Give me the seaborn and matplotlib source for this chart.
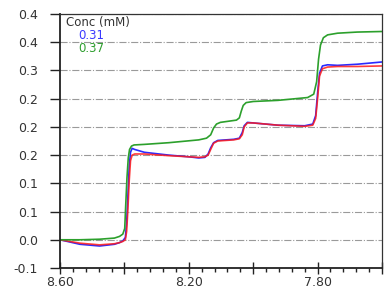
import numpy as np
import pandas as pd
import matplotlib
matplotlib.use("Agg")
import matplotlib.pyplot as plt
from matplotlib.ticker import MultipleLocator, FixedLocator, FixedFormatter
from matplotlib.lines import Line2D
import seaborn as sns

# ---------------- data ----------------
ppm_green = [8.600, 8.538, 8.477, 8.431, 8.415, 8.405, 8.399, 8.396, 8.392, 8.388,
             8.384, 8.378, 8.370, 8.338, 8.262, 8.169, 8.145, 8.132, 8.123, 8.114,
             8.102, 8.052, 8.043, 8.037, 8.031, 8.022, 8.000, 7.923, 7.831, 7.812,
             7.803, 7.797, 7.791, 7.782, 7.769, 7.738, 7.677, 7.600]
val_green = [0.000, 0.000, 0.001, 0.003, 0.006, 0.010, 0.020, 0.060, 0.110, 0.145,
             0.160, 0.166, 0.168, 0.169, 0.172, 0.177, 0.180, 0.186, 0.198, 0.205,
             0.208, 0.212, 0.216, 0.228, 0.238, 0.243, 0.245, 0.247, 0.252, 0.258,
             0.280, 0.320, 0.345, 0.358, 0.363, 0.366, 0.368, 0.369]

ppm_blue = [8.600, 8.538, 8.477, 8.431, 8.415, 8.405, 8.397, 8.393, 8.389, 8.385,
            8.381, 8.376, 8.368, 8.338, 8.262, 8.200, 8.169, 8.150, 8.140, 8.132,
            8.123, 8.110, 8.060, 8.043, 8.034, 8.028, 8.018, 8.000, 7.923, 7.840,
            7.815, 7.806, 7.800, 7.794, 7.785, 7.769, 7.738, 7.677, 7.600]
val_blue = [0.000, -0.008, -0.011, -0.008, -0.005, -0.002, 0.004, 0.030, 0.080, 0.130,
            0.155, 0.162, 0.160, 0.155, 0.150, 0.147, 0.145, 0.146, 0.152, 0.163,
            0.172, 0.176, 0.178, 0.180, 0.190, 0.202, 0.208, 0.207, 0.203, 0.202,
            0.205, 0.220, 0.260, 0.295, 0.308, 0.310, 0.309, 0.311, 0.315]

ppm_red = [8.600, 8.538, 8.477, 8.431, 8.415, 8.405, 8.397, 8.393, 8.389, 8.385,
           8.381, 8.376, 8.368, 8.338, 8.262, 8.169, 8.150, 8.140, 8.132, 8.123,
           8.110, 8.060, 8.043, 8.034, 8.028, 8.018, 8.000, 7.923, 7.840, 7.815,
           7.806, 7.800, 7.794, 7.785, 7.769, 7.738, 7.677, 7.600]
val_red = [0.000, -0.006, -0.009, -0.007, -0.005, -0.003, 0.000, 0.015, 0.055, 0.105,
           0.140, 0.150, 0.152, 0.152, 0.149, 0.146, 0.147, 0.150, 0.160, 0.171,
           0.175, 0.177, 0.179, 0.186, 0.200, 0.207, 0.207, 0.203, 0.201, 0.203,
           0.215, 0.250, 0.290, 0.303, 0.306, 0.307, 0.307, 0.308]

series_names = ["0.31", "fit", "0.37"]
series_colors = {"0.31": "#2b2bff", "fit": "#ff1a1a", "0.37": "#2ca02c"}
legend_title = "Conc (mM)"
legend_entries = ["0.31", "0.37"]
legend_colors = ["#3a3aff", "#2e9e2e"]

ytick_values = [-0.05, 0.0, 0.05, 0.10, 0.15, 0.20, 0.25, 0.30, 0.35, 0.40]
ytick_labels = ["-0.1", "0.0", "0.1", "0.1", "0.2", "0.2", "0.2", "0.3", "0.4", "0.4"]
xtick_values = [8.6, 8.4, 8.2, 8.0, 7.8, 7.6]
xtick_labels = ["8.60", "", "8.20", "", "7.80", ""]

# ---------------- build table ----------------
df = pd.concat([
    pd.DataFrame({"ppm": ppm_blue, "value": val_blue, "series": "0.31"}),
    pd.DataFrame({"ppm": ppm_red, "value": val_red, "series": "fit"}),
    pd.DataFrame({"ppm": ppm_green, "value": val_green, "series": "0.37"}),
], ignore_index=True)

sns.set_style("white")
plt.rcParams["font.family"] = ["DejaVu Sans"]

fig = plt.figure(figsize=(3.84, 2.89), dpi=100)
ax = fig.add_axes([60 / 384, 21 / 289, 322 / 384, 254 / 289])

for name in series_names:
    sub = df[df["series"] == name]
    sns.lineplot(data=sub, x="ppm", y="value", ax=ax, color=series_colors[name],
                 lw=1.2, sort=False, estimator=None, legend=False,
                 alpha=0.85 if name == "fit" else 1.0)

ax.set_xlim(8.6, 7.6)
ax.set_ylim(-0.05, 0.40)
ax.set_xlabel("")
ax.set_ylabel("")

ax.yaxis.set_major_locator(FixedLocator(ytick_values))
ax.yaxis.set_major_formatter(FixedFormatter(ytick_labels))
ax.xaxis.set_major_locator(FixedLocator(xtick_values))
ax.xaxis.set_major_formatter(FixedFormatter(xtick_labels))
ax.xaxis.set_minor_locator(MultipleLocator(0.04))

ax.tick_params(axis="y", which="major", direction="out", length=7, width=1.0,
               color="#222222", labelsize=9, labelcolor="#333333", pad=9, left=True)
ax.tick_params(axis="x", which="major", direction="inout", length=8, width=1.0,
               color="#222222", labelsize=9, labelcolor="#333333", pad=1.5, bottom=True)
ax.tick_params(axis="x", which="minor", direction="out", length=3, width=1.0,
               color="#222222", bottom=True)

ax.yaxis.grid(True, linestyle="-.", color="#9a9a9a", lw=0.8)
ax.xaxis.grid(False)
ax.set_axisbelow(True)

for side in ["left", "bottom"]:
    ax.spines[side].set_color("#222222")
    ax.spines[side].set_linewidth(1.3)
for side in ["top", "right"]:
    ax.spines[side].set_color("#333333")
    ax.spines[side].set_linewidth(0.9)

handles = [Line2D([], [], color="none") for _ in legend_entries]
leg = ax.legend(handles, legend_entries, title=legend_title, loc="upper left",
                bbox_to_anchor=(0.012, 1.0),
                frameon=False, fontsize=8.5, title_fontsize=8.5, handlelength=1.0,
                handletextpad=0.0, labelspacing=0.0, borderaxespad=0.1,
                borderpad=0.1, alignment="left")
leg.get_title().set_color("#333333")
for txt, c in zip(leg.get_texts(), legend_colors):
    txt.set_color(c)

fig.savefig("out.png", dpi=100)
